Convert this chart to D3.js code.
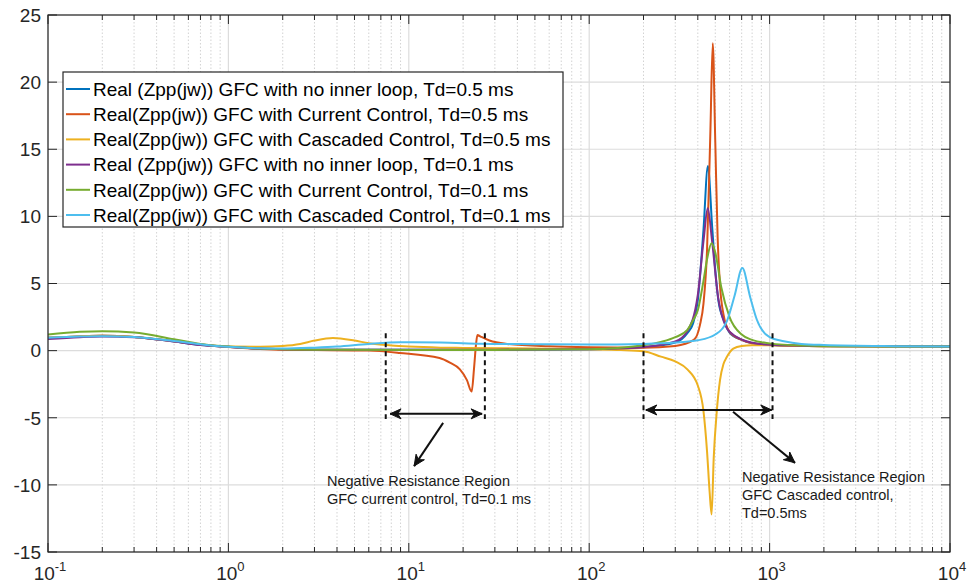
<!DOCTYPE html>
<html>
<head>
<meta charset="utf-8">
<script src="https://cdn.jsdelivr.net/npm/d3@7"></script>
<style>
  body { margin: 0; background: #fff; }
  text { font-family: "Liberation Sans", Arial, Helvetica, sans-serif; fill: #262626; }
</style>
</head>
<body>
<svg id="chart" width="967" height="585"></svg>
<script>
// ---- data (frequency, Real(Zpp)) ----
const noLoop05 = [[0.1,0.95],[0.15,1.06],[0.2,1.1],[0.3,1.02],[0.5,0.68],[0.7,0.42],[1,0.28],[1.5,0.15],[2,0.1],[3,0.07],[10,0.06],[30,0.07],[100,0.1],[200,0.25],[300,0.6],[350,1.3],[376,2.0],[400,3.75],[430,9.0],[455,13.75],[480,9.3],[500,6.0],[520,3.75],[560,2.2],[600,1.35],[700,0.8],[800,0.55],[1000,0.41],[2000,0.33],[10000,0.3]];
const current05 = [[0.1,0.95],[0.15,1.06],[0.2,1.1],[0.3,1.02],[0.5,0.7],[0.7,0.45],[1,0.27],[1.5,0.12],[2,0.06],[3,0.04],[6,0.0],[8.9,-0.17],[14.8,-0.55],[16.9,-0.9],[19.2,-1.4],[21,-2.2],[22.3,-3.05],[23,-1.3],[23.6,0.5],[24,1.17],[25,1.05],[28,0.75],[35,0.5],[60,0.32],[100,0.25],[200,0.22],[300,0.35],[380,0.8],[411,1.9],[430,3.5],[450,7.5],[470,16.5],[484,22.9],[500,15.5],[515,8.5],[530,5.0],[555,2.7],[600,1.4],[700,0.8],[800,0.55],[1000,0.42],[2000,0.33],[10000,0.3]];
const cascaded05 = [[0.1,0.95],[0.15,1.06],[0.2,1.1],[0.3,1.02],[0.5,0.7],[0.7,0.46],[1,0.3],[1.5,0.29],[2,0.35],[2.5,0.5],[3,0.75],[3.8,0.94],[5,0.75],[6,0.55],[8,0.38],[10,0.3],[15,0.22],[20,0.2],[50,0.15],[100,0.1],[150,0.05],[200,-0.05],[250,-0.45],[300,-0.8],[350,-1.4],[400,-2.6],[430,-4.5],[450,-7.5],[465,-10.5],[477,-12.2],[490,-8.0],[509,-4.6],[531,-2.2],[555,-1.0],[578,-0.5],[629,0.15],[700,0.35],[800,0.4],[1000,0.4],[2000,0.33],[10000,0.3]];
const noLoop01 = [[0.1,0.87],[0.15,1.0],[0.2,1.05],[0.3,1.0],[0.5,0.68],[0.7,0.42],[1,0.28],[1.5,0.15],[2,0.1],[3,0.07],[10,0.06],[30,0.07],[100,0.1],[200,0.27],[300,0.69],[350,1.45],[400,4.15],[430,8.15],[454,10.6],[480,8.15],[520,3.85],[600,1.4],[800,0.58],[1000,0.44],[2000,0.34],[10000,0.3]];
const current01 = [[0.1,1.2],[0.15,1.4],[0.2,1.45],[0.3,1.35],[0.5,0.85],[0.7,0.5],[1,0.3],[1.5,0.15],[2,0.1],[3,0.07],[10,0.05],[30,0.05],[100,0.1],[200,0.4],[250,0.65],[300,1.0],[350,1.55],[376,2.25],[400,3.0],[430,5.2],[450,6.8],[477,8.0],[500,7.3],[540,4.7],[600,2.5],[700,1.2],[800,0.8],[1000,0.54],[1500,0.38],[3000,0.32],[10000,0.3]];
const cascaded01 = [[0.1,0.95],[0.15,1.05],[0.2,1.08],[0.3,1.02],[0.5,0.72],[0.7,0.48],[1,0.28],[1.5,0.17],[2,0.15],[3,0.22],[4,0.3],[6,0.5],[9,0.62],[15,0.6],[25,0.52],[50,0.48],[100,0.45],[200,0.5],[300,0.6],[400,0.77],[500,1.2],[580,2.2],[640,4.1],[706,6.15],[780,4.0],[850,2.3],[1000,1.0],[1200,0.7],[1500,0.5],[2000,0.42],[5000,0.33],[10000,0.3]];

const seriesData = [noLoop05, current05, cascaded05, noLoop01, current01, cascaded01];
const legendLabels = [
  "Real (Zpp(jw)) GFC with no inner loop, Td=0.5 ms",
  "Real(Zpp(jw)) GFC with Current Control, Td=0.5 ms",
  "Real(Zpp(jw)) GFC with Cascaded Control, Td=0.5 ms",
  "Real (Zpp(jw)) GFC with no inner loop, Td=0.1 ms",
  "Real(Zpp(jw)) GFC with Current Control, Td=0.1 ms",
  "Real(Zpp(jw)) GFC with Cascaded Control, Td=0.1 ms"
];
const colors = ["#0072BD", "#D95319", "#EDB120", "#7E2F8E", "#77AC30", "#4DBEEE"];
const yTicks = [-15, -10, -5, 0, 5, 10, 15, 20, 25];
const xExponents = [-1, 0, 1, 2, 3, 4];

// annotation marks (data coords)
const dashedX = [7.45, 26.4, 200, 1038];
const dashedY = [1.3, -5.1];
const spanArrows = [
  { x0: 7.87, x1: 25.5, y: -4.71 },
  { x0: 206, x1: 1028, y: -4.42 }
];
const pointers = [
  { from: [15.5, -5.38], to: [10.7, -8.6] },
  { from: [627, -4.56], to: [1383, -8.36] }
];
const notes = [
  { x: 3.52, y: -10.05, lines: ["Negative Resistance Region", "GFC current control, Td=0.1 ms"] },
  { x: 703, y: -9.75, lines: ["Negative Resistance Region", "GFC Cascaded control,", "Td=0.5ms"] }
];

const svg = d3.select("#chart");
const margin = { left: 48, right: 17, top: 15, bottom: 33 };
const width = 967, height = 585;

const x = d3.scaleLog().domain([0.1, 10000]).range([margin.left, width - margin.right]);
const y = d3.scaleLinear().domain([-15, 25]).range([height - margin.bottom, margin.top]);
const [x0, x1] = x.range();
const [yb, yt] = y.range();

// grid
const minorX = [];
for (let e = -1; e < 4; e++) for (let m = 2; m <= 9; m++) minorX.push(m * Math.pow(10, e));
const grid = svg.append("g");
grid.selectAll(".minor").data(minorX).join("line")
  .attr("x1", d => x(d)).attr("x2", d => x(d)).attr("y1", yt).attr("y2", yb)
  .attr("stroke", "#c8c8c8").attr("stroke-width", 0.8).attr("stroke-dasharray", "1.5,2");
grid.selectAll(".majx").data(xExponents.map(e => Math.pow(10, e))).join("line")
  .attr("x1", d => x(d)).attr("x2", d => x(d)).attr("y1", yt).attr("y2", yb)
  .attr("stroke", "#dcdcdc").attr("stroke-width", 1.2);
grid.selectAll(".majy").data(yTicks).join("line")
  .attr("x1", x0).attr("x2", x1).attr("y1", d => y(d)).attr("y2", d => y(d))
  .attr("stroke", "#dcdcdc").attr("stroke-width", 1.2);

// curves
svg.append("clipPath").attr("id", "clip").append("rect")
  .attr("x", x0).attr("y", yt).attr("width", x1 - x0).attr("height", yb - yt);
const line = d3.line().x(d => x(d[0])).y(d => y(d[1])).curve(d3.curveMonotoneX);
svg.append("g").attr("clip-path", "url(#clip)")
  .selectAll("path").data(seriesData).join("path")
  .attr("d", line).attr("fill", "none")
  .attr("stroke", (d, i) => colors[i]).attr("stroke-width", 2);

// annotations
const ann = svg.append("g").attr("stroke", "#111").attr("fill", "none");
ann.selectAll(".dash").data(dashedX).join("line")
  .attr("x1", d => x(d)).attr("x2", d => x(d))
  .attr("y1", y(dashedY[0])).attr("y2", y(dashedY[1]))
  .attr("stroke-width", 2).attr("stroke-dasharray", "5,4");

function head(tip, from, len = 11, half = 5) {
  const dx = tip[0] - from[0], dy = tip[1] - from[1];
  const L = Math.hypot(dx, dy), ux = dx / L, uy = dy / L;
  const bx = tip[0] - ux * len, by = tip[1] - uy * len;
  const nx = tip[0] - ux * len * 0.7, ny = tip[1] - uy * len * 0.7;
  return `M${tip[0]},${tip[1]}L${bx - uy * half},${by + ux * half}L${nx},${ny}L${bx + uy * half},${by - ux * half}Z`;
}

spanArrows.forEach(a => {
  const p0 = [x(a.x0), y(a.y)], p1 = [x(a.x1), y(a.y)];
  ann.append("line").attr("x1", p0[0]).attr("x2", p1[0]).attr("y1", p0[1]).attr("y2", p1[1]).attr("stroke-width", 2);
  ann.append("path").attr("d", head(p1, p0)).attr("fill", "#111").attr("stroke-width", 1);
  ann.append("path").attr("d", head(p0, p1)).attr("fill", "#111").attr("stroke-width", 1);
});
pointers.forEach(a => {
  const p0 = [x(a.from[0]), y(a.from[1])], p1 = [x(a.to[0]), y(a.to[1])];
  ann.append("line").attr("x1", p0[0]).attr("x2", p1[0]).attr("y1", p0[1]).attr("y2", p1[1]).attr("stroke-width", 2);
  ann.append("path").attr("d", head(p1, p0)).attr("fill", "#111").attr("stroke-width", 1);
});

notes.forEach(n => {
  const t = svg.append("text").attr("x", x(n.x)).attr("y", y(n.y)).style("font-size", "14.5px").style("fill", "#1a1a1a");
  n.lines.forEach((s, i) => t.append("tspan").attr("x", x(n.x)).attr("dy", i ? 18.3 : 0).text(s));
});

// box and ticks
const axes = svg.append("g").attr("stroke", "#262626");
axes.append("rect").attr("x", x0).attr("y", yt).attr("width", x1 - x0).attr("height", yb - yt)
  .attr("fill", "none").attr("stroke-width", 1.2);
const majorLen = 9, minorLen = 5;
xExponents.map(e => Math.pow(10, e)).forEach(v => {
  axes.append("line").attr("x1", x(v)).attr("x2", x(v)).attr("y1", yb).attr("y2", yb - majorLen);
  axes.append("line").attr("x1", x(v)).attr("x2", x(v)).attr("y1", yt).attr("y2", yt + majorLen);
});
minorX.forEach(v => {
  axes.append("line").attr("x1", x(v)).attr("x2", x(v)).attr("y1", yb).attr("y2", yb - minorLen);
  axes.append("line").attr("x1", x(v)).attr("x2", x(v)).attr("y1", yt).attr("y2", yt + minorLen);
});
yTicks.forEach(v => {
  axes.append("line").attr("x1", x0).attr("x2", x0 + majorLen).attr("y1", y(v)).attr("y2", y(v));
  axes.append("line").attr("x1", x1).attr("x2", x1 - majorLen).attr("y1", y(v)).attr("y2", y(v));
});

// tick labels
svg.selectAll(".ylab").data(yTicks).join("text")
  .attr("x", x0 - 7).attr("y", d => y(d)).attr("dy", "0.36em")
  .attr("text-anchor", "end").style("font-size", "19px").text(d => d);
xExponents.forEach(e => {
  const t = svg.append("text").attr("x", x(Math.pow(10, e)) + 2).attr("y", 580)
    .attr("text-anchor", "middle").style("font-size", "19px");
  t.append("tspan").text("10");
  t.append("tspan").attr("dy", -9).style("font-size", "13px").text(e);
});

// legend
const lg = svg.append("g");
lg.append("rect").attr("x", 63).attr("y", 72).attr("width", 500).attr("height", 155)
  .attr("fill", "#fff").attr("stroke", "#262626").attr("stroke-width", 1.2);
legendLabels.forEach((s, i) => {
  const yy = 89 + i * 25.2;
  lg.append("line").attr("x1", 66).attr("x2", 90).attr("y1", yy).attr("y2", yy)
    .attr("stroke", colors[i]).attr("stroke-width", 2);
  lg.append("text").attr("x", 93).attr("y", yy).attr("dy", "0.36em")
    .style("font-size", "19px").style("fill", "#000").text(s);
});
</script>
</body>
</html>
